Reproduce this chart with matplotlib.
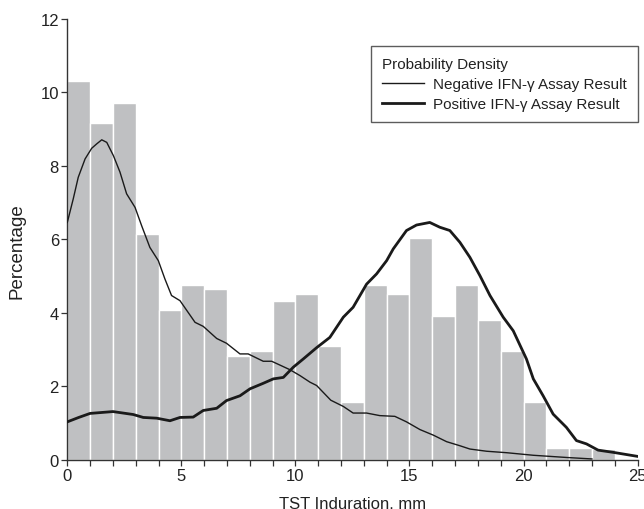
import numpy as np
import matplotlib
matplotlib.use("Agg")
import matplotlib.pyplot as plt

plt.rcParams['font.family'] = ['Liberation Sans', 'DejaVu Sans']

# histogram: percentage per 1 mm bin, 0-25 mm
bin_edges = list(range(0, 26))
pct = [10.32, 9.17, 9.71, 6.15, 4.08, 4.77, 4.64, 2.83, 2.97, 4.33,
       4.51, 3.10, 1.58, 4.77, 4.50, 6.03, 3.92, 4.77, 3.79, 2.97,
       1.58, 0.32, 0.32, 0.29, 0.0]

# density curves (scaled to percentage)
neg_x = [0, 0.26, 0.48, 0.78, 1.07, 1.29, 1.51, 1.73, 2.02, 2.31, 2.60, 2.97,
         3.26, 3.62, 3.99, 4.28, 4.57, 4.94, 5.6, 5.96, 6.55, 6.98, 7.57,
         7.93, 8.59, 8.96, 9.76, 10.2, 10.64, 10.93, 11.55, 12.1, 12.53,
         13.12, 13.7, 14.36, 14.87, 15.46, 16.04, 16.63, 17.21, 17.65, 18.38,
         19.26, 20.43, 21.89, 23.0]
neg_y = [6.46, 7.10, 7.69, 8.19, 8.48, 8.60, 8.71, 8.64, 8.28, 7.83, 7.24, 6.87,
         6.37, 5.78, 5.42, 4.92, 4.47, 4.33, 3.74, 3.63, 3.30, 3.17, 2.88,
         2.88, 2.68, 2.68, 2.45, 2.29, 2.11, 2.02, 1.62, 1.45, 1.27,
         1.27, 1.20, 1.18, 1.03, 0.82, 0.67, 0.49, 0.38, 0.29, 0.23,
         0.19, 0.12, 0.06, 0.02]
pos_x = [0, 0.5, 1.0, 2.0, 2.89, 3.33, 3.92, 4.5, 4.94, 5.52, 5.96, 6.55, 6.98,
         7.57, 8.01, 8.59, 9.03, 9.47, 9.91, 10.34, 10.93, 11.51, 12.1, 12.53,
         13.12, 13.56, 14.0, 14.29, 14.87, 15.31, 15.89, 16.33, 16.77, 17.21,
         17.65, 18.09, 18.53, 19.11, 19.55, 20.13, 20.43, 20.86, 21.3, 21.88,
         22.32, 22.76, 23.27, 23.93, 25.0]
pos_y = [1.03, 1.15, 1.26, 1.31, 1.23, 1.15, 1.13, 1.06, 1.15, 1.16, 1.34, 1.40,
         1.61, 1.74, 1.93, 2.08, 2.20, 2.24, 2.52, 2.74, 3.05, 3.33, 3.88, 4.15,
         4.78, 5.06, 5.42, 5.74, 6.24, 6.39, 6.46, 6.33, 6.24, 5.92, 5.51, 5.01,
         4.47, 3.88, 3.51, 2.74, 2.20, 1.74, 1.24, 0.88, 0.52, 0.43, 0.26, 0.20,
         0.09]

txt = '#222222'
fig = plt.figure(figsize=(6.44, 5.10), dpi=100)
ax = fig.add_axes([0.1045, 0.0967, 0.8855, 0.8641])

ax.bar(bin_edges[:-1], pct, width=1, align='edge', color='#bfc0c2',
       edgecolor='white', linewidth=1.0, zorder=1)
ax.plot(neg_x, neg_y, color='#1a1a1a', lw=1.0, label='Negative IFN-\u03b3 Assay Result', zorder=3)
ax.plot(pos_x, pos_y, color='#1a1a1a', lw=2.0, label='Positive IFN-\u03b3 Assay Result', zorder=3)

ax.set_xlim(0, 25)
ax.set_ylim(0, 12)
ax.set_xticks(range(0, 26, 5))
ax.set_xticks(range(0, 26), minor=True)
ax.set_yticks(range(0, 13, 2))
for s in ['top', 'right']:
    ax.spines[s].set_visible(False)
for s in ['left', 'bottom']:
    ax.spines[s].set_color('#333333')
    ax.spines[s].set_linewidth(1.0)
ax.tick_params(which='both', direction='out', length=4, width=0.9, color='#333333',
               labelsize=12, labelcolor=txt, pad=2)
ax.set_xlabel('TST Induration, mm', fontsize=12, color=txt, labelpad=9)
ax.set_ylabel('Percentage', fontsize=13.5, color=txt)
ax.yaxis.set_label_coords(-0.073, 0.475)
for lab in ax.get_xticklabels():
    lab.set_clip_on(False)

leg = ax.legend(title='Probability Density', loc='upper right',
                bbox_to_anchor=(1.0, 0.939), frameon=True, fancybox=False,
                edgecolor='#333333', fontsize=11, title_fontsize=11,
                alignment='left', handlelength=2.75, handletextpad=0.6,
                borderpad=0.7, labelspacing=0.42, borderaxespad=0)
leg.get_frame().set_linewidth(1.0)
for t in leg.get_texts():
    t.set_color(txt)
leg.get_title().set_color(txt)

fig.savefig('out.png', dpi=100)
